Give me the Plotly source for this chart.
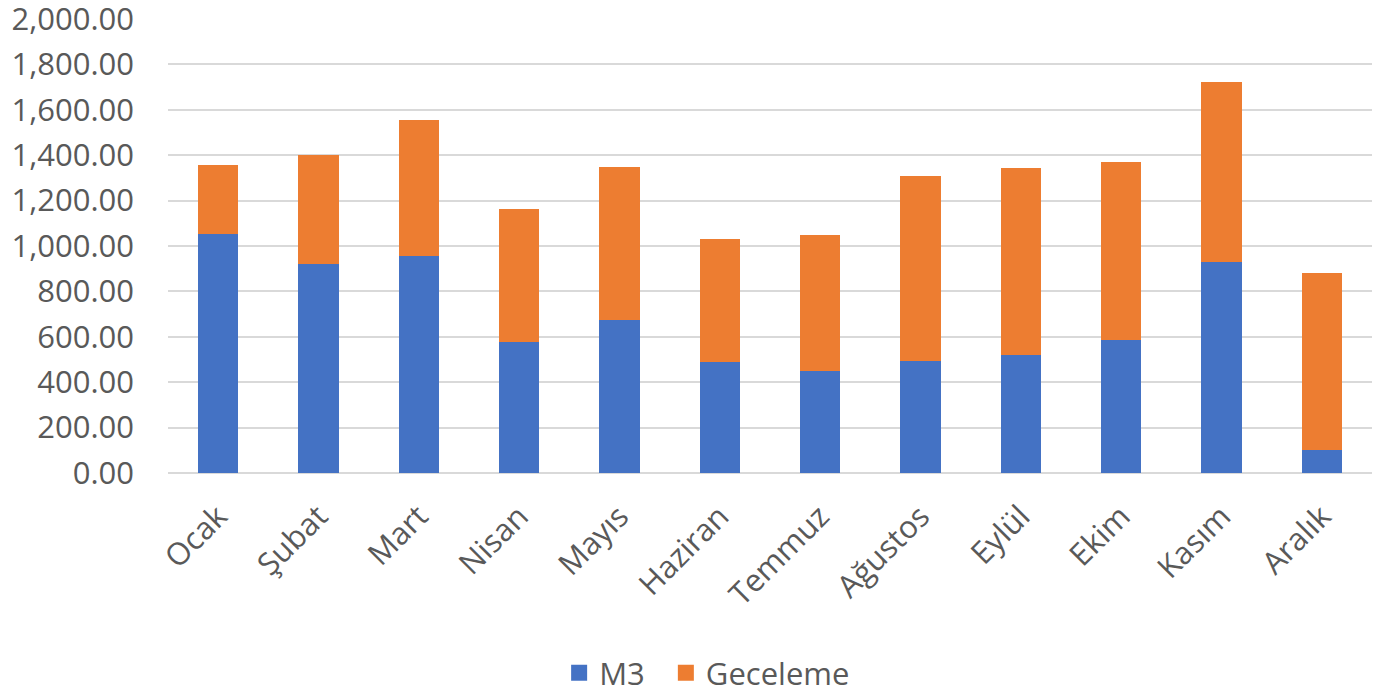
import plotly.graph_objects as go

# Monthly categories and stacked series values
months = ["Ocak", "Şubat", "Mart", "Nisan", "Mayıs", "Haziran",
          "Temmuz", "Ağustos", "Eylül", "Ekim", "Kasım", "Aralık"]
m3 = [1055, 920, 955, 575, 675, 490, 448, 492, 518, 584, 930, 100]
geceleme = [302, 480, 598, 590, 675, 540, 600, 816, 824, 784, 792, 780]
y_ticks = [0, 200, 400, 600, 800, 1000, 1200, 1400, 1600, 1800, 2000]

FONT = "Open Sans, Noto Sans, sans-serif"
GREY = "#595959"
BLUE = "#4472C4"
ORANGE = "#ED7D31"
FS = 31

fig = go.Figure()
fig.add_trace(go.Bar(x=months, y=m3, name="M3", showlegend=False,
                     marker=dict(color=BLUE, line=dict(width=0))))
fig.add_trace(go.Bar(x=months, y=geceleme, name="Geceleme", showlegend=False,
                     marker=dict(color=ORANGE, line=dict(width=0))))

# legend entries with larger square swatches
for name, col in (("M3\u00a0\u00a0", BLUE), ("Geceleme", ORANGE)):
    fig.add_trace(go.Scatter(x=[None], y=[None], mode="markers", name=name,
                             marker=dict(symbol="square", size=20, color=col)))

fig.update_layout(
    barmode="stack",
    bargap=0.6,
    width=1392, height=694,
    margin=dict(l=168, r=20, t=19, b=221, autoexpand=False),
    paper_bgcolor="white", plot_bgcolor="white",
    font=dict(family=FONT, color=GREY, size=FS),
    legend=dict(orientation="h", xref="container", yref="container",
                x=0.508, xanchor="center", y=0.03, yanchor="middle",
                font=dict(size=FS, color=GREY),
                traceorder="normal", itemwidth=30),
    xaxis=dict(tickangle=-45, tickfont=dict(size=FS, color=GREY),
               showline=False, showgrid=False, ticks="",
               automargin=False, ticklabelstandoff=18),
    yaxis=dict(range=[0, 2000], tickvals=y_ticks,
               tickformat=",.2f", tickfont=dict(size=FS, color=GREY),
               showgrid=True, gridcolor="#d9d9d9", gridwidth=2,
               zeroline=True, zerolinecolor="#d9d9d9", zerolinewidth=2,
               showline=False, ticks="", ticklabelstandoff=33,
               ticklabeloverflow="allow", automargin=False),
)

fig.write_html("out.html")
